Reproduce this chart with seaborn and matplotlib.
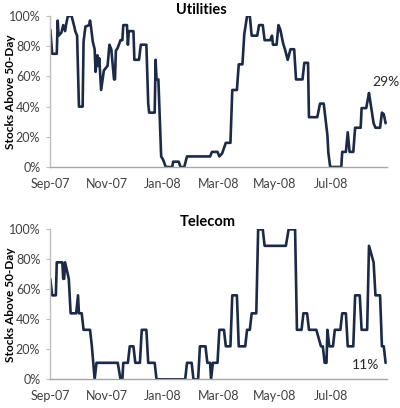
import numpy as np
import pandas as pd
import matplotlib
matplotlib.use("Agg")
import matplotlib.pyplot as plt
import seaborn as sns
from matplotlib.ticker import FuncFormatter

# ---- data (days since 2007-09-01, % of stocks above 50-day MA) ----
start_date = "2007-09-01"
util_days = [0, 2, 7, 8, 9, 12, 14, 16, 17, 19, 23, 26, 27, 29, 31, 35, 36, 38, 42, 43,
             44, 46, 48, 49, 51, 52, 53, 55, 58, 62, 64, 66, 69, 70, 71, 73, 76, 78, 79, 83,
             84, 85, 90, 91, 96, 98, 104, 106, 107, 113, 114, 115, 117, 118, 120, 122, 125,
             132, 133, 139, 141, 145, 148, 173, 175, 181, 183, 186, 190, 195, 197, 202, 204,
             208, 210, 213, 216, 218, 224, 226, 230, 232, 238, 240, 241, 245, 247, 249, 252,
             254, 257, 260, 264, 266, 273, 275, 279, 280, 289, 292, 296, 300, 301, 303, 315,
             316, 320, 322, 324, 328, 330, 336, 337, 342, 345, 346, 350, 352, 357, 359, 361, 363]
util_pct = [91, 75, 75, 97, 87, 89, 94, 90, 94, 100, 100, 93, 90, 87, 40, 40, 83, 93, 94, 97,
            93, 83, 78, 63, 74, 67, 72, 51, 64, 67, 81, 78, 58, 58, 77, 79, 84, 84, 94, 94,
            81, 90, 90, 71, 71, 81, 81, 42, 36, 36, 71, 58, 58, 41, 7, 5, 0,
            0, 3.5, 3.5, 0, 0, 7, 7, 10, 10, 7, 9, 16, 16, 51, 51, 68,
            68, 88, 100, 100, 87, 87, 94, 94, 84, 84, 87, 81, 81, 94, 91, 82,
            78, 71, 78, 78, 58, 58, 69, 69, 33, 33, 42, 42, 21, 9.5, 0, 0,
            10, 10, 23, 10, 10, 26, 26, 39, 39, 49, 45, 29, 26, 26, 36, 35, 29]

tel_days = [0, 2, 6, 7, 13, 14, 15, 16, 20, 22, 28, 30, 31, 34, 36, 43, 45, 48, 50, 73,
            76, 78, 79, 84, 86, 90, 92, 97, 99, 104, 106, 113, 115, 146, 148, 153, 155, 160,
            162, 168, 170, 173, 174, 176, 181, 183, 188, 190, 195, 197, 202, 204, 211, 213,
            216, 218, 223, 225, 230, 232, 255, 258, 265, 267, 272, 274, 278, 280, 288, 293,
            295, 297, 299, 300, 302, 306, 308, 314, 316, 320, 322, 328, 330, 335, 337, 343,
            345, 350, 352, 357, 359, 361, 363]
tel_pct = [67, 56, 56, 78, 78, 67, 67, 78, 67, 44, 44, 56, 44, 44, 33, 33, 22, 0, 11, 11,
           0, 0, 11, 11, 22, 22, 11, 11, 33, 33, 11, 11, 0, 0, 11, 11, 0, 0,
           22, 22, 11, 11, 0, 11, 11, 33, 33, 22, 22, 56, 56, 22, 22, 33,
           33, 44, 44, 100, 100, 89, 89, 100, 100, 33, 33, 44, 44, 33, 33, 22,
           22, 11, 11, 33, 22, 22, 33, 33, 44, 44, 22, 22, 56, 56, 33, 33,
           89, 78, 56, 56, 22, 22, 11]

tick_months = ["2007-09-01", "2007-11-01", "2008-01-01", "2008-03-01", "2008-05-01", "2008-07-01"]
tick_labels = ["Sep-07", "Nov-07", "Jan-08", "Mar-08", "May-08", "Jul-08"]
titles = ["Utilities", "Telecom"]
end_labels = ["29%", "11%"]
y_label = "Stocks Above 50-Day"

# ---- style ----
sns.set_theme(style="white")
plt.rcParams['font.family'] = ['Lato', 'DejaVu Sans']

line_color = "#1B2A47"
text_color = "#404040"

fig = plt.figure(figsize=(4.0, 4.08), dpi=100)
ax_top = fig.add_axes([0.125, 0.5907, 0.8425, 0.370])
ax_bot = fig.add_axes([0.125, 0.0703, 0.8425, 0.3676])

t0 = pd.Timestamp(start_date)
series = [(util_days, util_pct), (tel_days, tel_pct)]
title_pos = [(201 / 400, 1 - 10 / 408), (208 / 400, 1 - 222.5 / 408)]
label_offsets = [(0, 30), (-14.5, -1.5)]

for ax, (days, pct), title, tpos, lab, off in zip(
        [ax_top, ax_bot], series, titles, title_pos, end_labels, label_offsets):
    df = pd.DataFrame({"date": t0 + pd.to_timedelta(days, unit="D"), "pct": pct})
    sns.lineplot(data=df, x="date", y="pct", ax=ax, color=line_color, linewidth=1.9)
    ax.set_ylim(0, 100)
    ax.set_yticks([0, 20, 40, 60, 80, 100])
    ax.yaxis.set_major_formatter(FuncFormatter(lambda v, p: f"{v:.0f}%"))
    ax.set_xlim(t0 - pd.Timedelta(hours=8), t0 + pd.Timedelta(days=364.5))
    ax.set_xticks(pd.to_datetime(tick_months))
    ax.set_xticklabels(tick_labels)
    ax.set_xlabel("")
    ax.set_ylabel(y_label, fontsize=8.6, fontweight="bold", color="black")
    ax.yaxis.set_label_coords(-0.1, 0.5)
    for s in ["top", "right"]:
        ax.spines[s].set_visible(False)
    ax.spines["left"].set_color("#BFBFBF")
    ax.spines["bottom"].set_color("#A6A6A6")
    ax.spines["left"].set_linewidth(1.0)
    ax.spines["bottom"].set_linewidth(1.0)
    ax.tick_params(axis="y", which="both", left=True, length=3, width=0.8, color="#BFBFBF",
                   labelsize=9, labelcolor=text_color, pad=4)
    ax.tick_params(axis="x", which="both", bottom=False, length=0,
                   labelsize=9, labelcolor=text_color, pad=8)
    fig.text(tpos[0], tpos[1], title, ha="center", va="center", fontsize=10.5,
             fontweight="bold", color="black")
    ax.annotate(lab, xy=(df["date"].iloc[-1], df["pct"].iloc[-1]), xytext=off,
                textcoords="offset points", ha="center", va="center",
                fontsize=10, color="#262626")

fig.savefig("out.png", dpi=100)
